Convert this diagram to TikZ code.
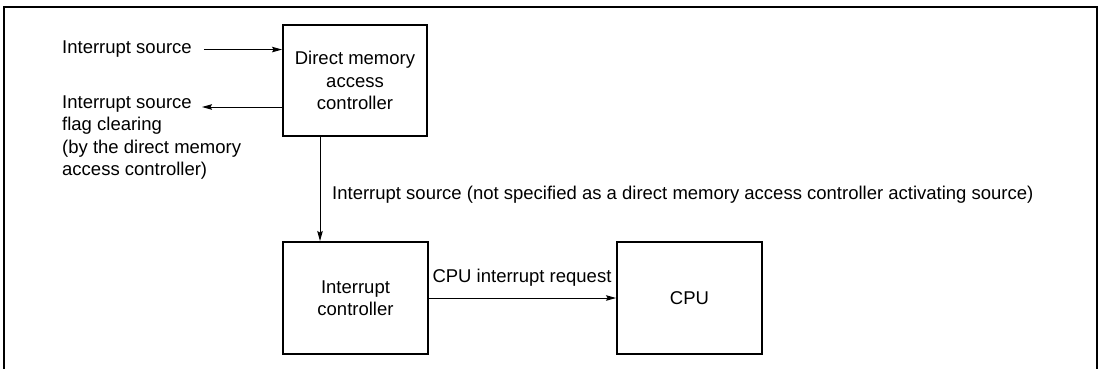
\documentclass[tikz,border=0pt]{standalone}
\usepackage{fontspec}
\setmainfont{Liberation Sans}
\usetikzlibrary{arrows.meta}
\begin{document}
\begin{tikzpicture}[x=1pt,y=-1pt,
  every node/.style={font=\fontsize{18.5}{22.5}\selectfont, inner sep=0pt},
  box/.style={draw, line width=1.9pt, align=center},
  lbl/.style={align=left},
  arr/.style={line width=1pt, -{Stealth[length=10pt,width=5.5pt,inset=1.5pt]}},
  frame/.style={line width=2.5pt}]
\useasboundingbox (0,0) rectangle (1100,369);
% frame
\coordinate (f1) at (4,375);
\coordinate (f2) at (4,7);
\coordinate (f3) at (1097,7);
\coordinate (f4) at (1097,375);
\draw[frame] (f1) -- (f2) -- (f3) -- (f4);
% boxes
\node[box, minimum width=144pt, minimum height=111pt] (dma) at (355,80.5) {Direct memory\\access\\controller};
\node[box, minimum width=145pt, minimum height=112pt] (ic) at (355.5,298) {Interrupt\\controller};
\node[box, minimum width=145pt, minimum height=112pt] (cpu) at (689.5,298) {CPU};
% labels
\node[anchor=base west] (src) at (62,54) {Interrupt source};
\node[lbl, anchor=north west] (flag) at (62,95.5) {Interrupt source\\flag clearing\\(by the direct memory\\access controller)};
\node[anchor=base west] (note) at (332,199.5) {Interrupt source (not specified as a direct memory access controller activating source)};
\node[anchor=base] (req) at (522,282) {CPU interrupt request};
% connectors
\draw[arr] ([xshift=12pt]src.east) -- (src.east -| dma.west);
\coordinate (fl) at (202,107);
\draw[arr] (fl -| dma.west) -- (fl);
\coordinate (vx) at (320,0);
\draw[arr] (dma.south -| vx) -- (ic.north -| vx);
\draw[arr] (ic.east) -- (cpu.west);
\end{tikzpicture}
\end{document}
